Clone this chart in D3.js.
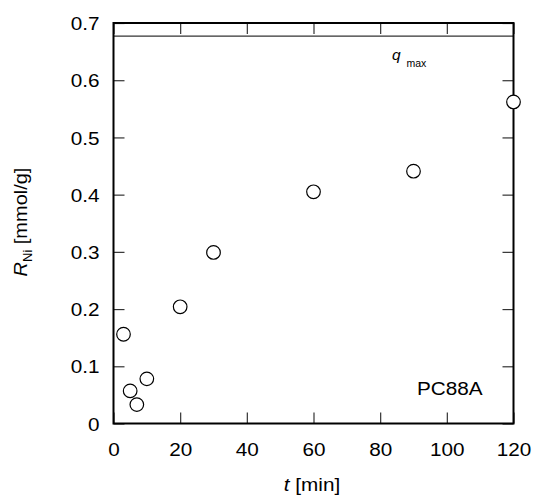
<!DOCTYPE html>
<html>
<head>
<meta charset="utf-8">
<script src="https://cdn.jsdelivr.net/npm/d3@7"></script>
<style>
  html, body { margin: 0; padding: 0; background: #fff; }
  svg { display: block; font-family: "Liberation Sans", Arial, Helvetica, sans-serif; }
</style>
</head>
<body>
<svg id="chart" width="534" height="495"></svg>
<script>
// Nickel uptake over time (PC88A)
const times = [3, 5, 7, 10, 20, 30, 60, 90, 120];            // t [min]
const uptake = [0.156, 0.057, 0.033, 0.078, 0.204, 0.299, 0.405, 0.441, 0.562]; // R_Ni [mmol/g]
const qMax = [0.677];
const xTicks = [0, 20, 40, 60, 80, 100, 120];
const yTicks = [0, 0.1, 0.2, 0.3, 0.4, 0.5, 0.6, 0.7];
const yTickLabels = ["0", "0.1", "0.2", "0.3", "0.4", "0.5", "0.6", "0.7"];

const svg = d3.select("#chart");
const plotLeft = 113.5, plotRight = 513.5, plotTop = 23, plotBottom = 423.5;

const x = d3.scaleLinear().domain([0, 120]).range([plotLeft, plotRight]);
const y = d3.scaleLinear().domain([0, 0.7]).range([plotBottom, plotTop]);

const tickLen = 11;
const stretch = 1.12;   // slightly wide lettering
const fontSize = "18.5px";

function styleAxis(g) {
  g.select(".domain").remove();
  g.selectAll(".tick line").attr("stroke", "#333").attr("stroke-width", 1.2);
  g.selectAll(".tick text")
    .attr("fill", "#000")
    .style("font-size", fontSize)
    .style("font-family", "'Liberation Sans', Arial, sans-serif");
}

// Inward ticks on all four sides
const gBottom = svg.append("g").attr("transform", `translate(0,${plotBottom})`)
  .call(d3.axisBottom(x).tickValues(xTicks).tickSize(-tickLen).tickFormat(d => d));
styleAxis(gBottom);
gBottom.selectAll(".tick text").attr("y", 0).attr("dy", "0.71em")
  .attr("transform", `translate(0,19) scale(${stretch},1)`);

const gTop = svg.append("g").attr("transform", `translate(0,${plotTop})`)
  .call(d3.axisTop(x).tickValues(xTicks).tickSize(-tickLen).tickFormat(""));
styleAxis(gTop);

const gLeft = svg.append("g").attr("transform", `translate(${plotLeft},0)`)
  .call(d3.axisLeft(y).tickValues(yTicks).tickSize(-tickLen).tickFormat((d, i) => yTickLabels[i]));
styleAxis(gLeft);
gLeft.selectAll(".tick text").attr("x", 0).attr("dy", "0.36em")
  .attr("transform", `translate(-14,0) scale(${stretch},1)`);

const gRight = svg.append("g").attr("transform", `translate(${plotRight},0)`)
  .call(d3.axisRight(y).tickValues(yTicks).tickSize(-tickLen).tickFormat(""));
styleAxis(gRight);

// q_max reference line
svg.selectAll("line.qmax").data(qMax).enter().append("line")
  .attr("class", "qmax")
  .attr("x1", plotLeft).attr("x2", plotRight)
  .attr("y1", d => y(d)).attr("y2", d => y(d))
  .attr("stroke", "#333").attr("stroke-width", 1.2);

// Frame
svg.append("rect")
  .attr("x", plotLeft).attr("y", plotTop)
  .attr("width", plotRight - plotLeft).attr("height", plotBottom - plotTop)
  .attr("fill", "none").attr("stroke", "#000").attr("stroke-width", 2);

// Data points (open circles)
svg.selectAll("circle.pt").data(times.map((t, i) => [t, uptake[i]])).enter()
  .append("circle")
  .attr("class", "pt")
  .attr("cx", d => x(d[0])).attr("cy", d => y(d[1]))
  .attr("r", 6.8)
  .attr("fill", "#fff").attr("stroke", "#000").attr("stroke-width", 1.2);

// q_max label
svg.append("text").attr("transform", "translate(392,60)")
  .style("font-style", "italic").style("font-size", "15.5px").attr("fill", "#000").text("q");
svg.append("text").attr("transform", "translate(406.5,66.5)")
  .style("font-size", "10.5px").attr("fill", "#000").text("max");

// Extractant label
svg.append("text").attr("transform", `translate(417,395) scale(${stretch},1)`)
  .style("font-size", fontSize).attr("fill", "#000").text("PC88A");

// Axis titles
const xt = svg.append("text").attr("transform", `translate(312,491) scale(${stretch},1)`)
  .attr("text-anchor", "middle").style("font-size", fontSize).attr("fill", "#000");
xt.append("tspan").style("font-style", "italic").text("t");
xt.append("tspan").text(" [min]");

const yt = svg.append("text")
  .attr("transform", `translate(27,222) rotate(-90) scale(1.08,1)`)
  .attr("text-anchor", "middle").style("font-size", fontSize).attr("fill", "#000");
yt.append("tspan").style("font-style", "italic").text("R");
yt.append("tspan").attr("dy", 5).style("font-size", "12px").text("Ni");
yt.append("tspan").attr("dy", -5).text(" [mmol/g]");
</script>
</body>
</html>
